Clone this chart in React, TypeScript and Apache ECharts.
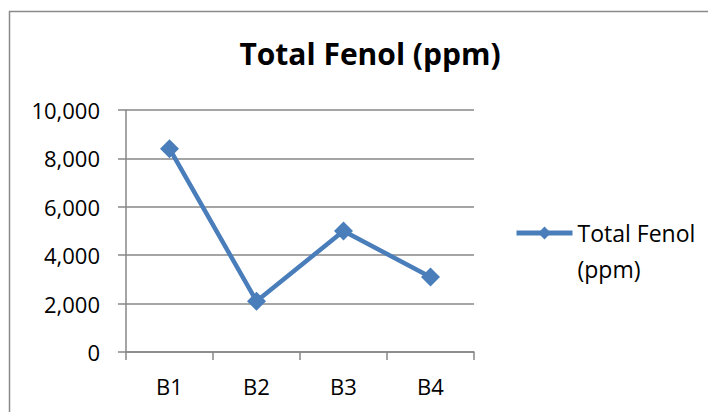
import React, { useEffect, useRef } from "react";
import * as echarts from "echarts";

const categories = ["B1", "B2", "B3", "B4"];
const totalFenol = [8400, 2100, 5000, 3100];
const seriesName = "Total Fenol (ppm)";
const yMin = 0;
const yMax = 10000;
const yInterval = 2000;

const fmt = (v: number) => String(v).replace(/\B(?=(\d{3})+(?!\d))/g, ",");

export default function App() {
  const ref = useRef<HTMLDivElement>(null);
  useEffect(() => {
    if (!ref.current) return;
    const chart = echarts.init(ref.current, null, { renderer: "svg" });
    const gray = "#878787";
    const blue = "#4a7ebb";
    const font = "'Open Sans', sans-serif";
    chart.setOption({
      animation: false,
      backgroundColor: "#ffffff",
      title: {
        text: "Total Fenol (ppm)",
        left: 365,
        textAlign: "center",
        top: 33,
        textStyle: { fontFamily: font, fontWeight: "bold", fontSize: 30, color: "#000" },
      },
      graphic: [
        {
          type: "rect",
          shape: { x: 9.5, y: 11.5, width: 760, height: 460 },
          style: { fill: "none", stroke: "#8a8a8a", lineWidth: 1.5 },
          silent: true,
        },
      ],
      grid: { left: 126, right: 234, top: 110, bottom: 60 },
      legend: {
        orient: "vertical",
        left: 509,
        top: 174,
        itemWidth: 56,
        itemHeight: 16,
        data: [seriesName],
        formatter: () => "\nTotal Fenol\n(ppm)",
        lineStyle: { width: 5, color: blue },
        itemStyle: { color: blue },
        textStyle: {
          fontFamily: font,
          fontSize: 23,
          color: "#000",
          lineHeight: 36,
        },
      },
      xAxis: {
        type: "category",
        data: categories,
        boundaryGap: true,
        axisLine: { lineStyle: { color: gray, width: 1.5 } },
        axisTick: { show: true, length: 8, lineStyle: { color: gray, width: 1.5 } },
        axisLabel: { fontFamily: font, fontSize: 22, color: "#000", margin: 23 },
      },
      yAxis: {
        type: "value",
        min: yMin,
        max: yMax,
        interval: yInterval,
        axisLine: { show: true, lineStyle: { color: gray, width: 1.5 } },
        axisTick: { show: true, length: 8, lineStyle: { color: gray, width: 1.5 } },
        splitLine: { show: true, lineStyle: { color: gray, width: 1.5 } },
        axisLabel: {
          fontFamily: font,
          fontSize: 22,
          color: "#000",
          margin: 26,
          formatter: (v: number) => fmt(v),
        },
      },
      series: [
        {
          name: seriesName,
          type: "line",
          data: totalFenol,
          symbol: "diamond",
          symbolSize: [19, 19],
          itemStyle: { color: blue },
          lineStyle: { color: blue, width: 4.5 },
        },
      ],
    });
    return () => chart.dispose();
  }, []);
  return (
    <div
      ref={ref}
      style={{ position: "absolute", left: 0, top: 0, width: 708, height: 412 }}
    />
  );
}
